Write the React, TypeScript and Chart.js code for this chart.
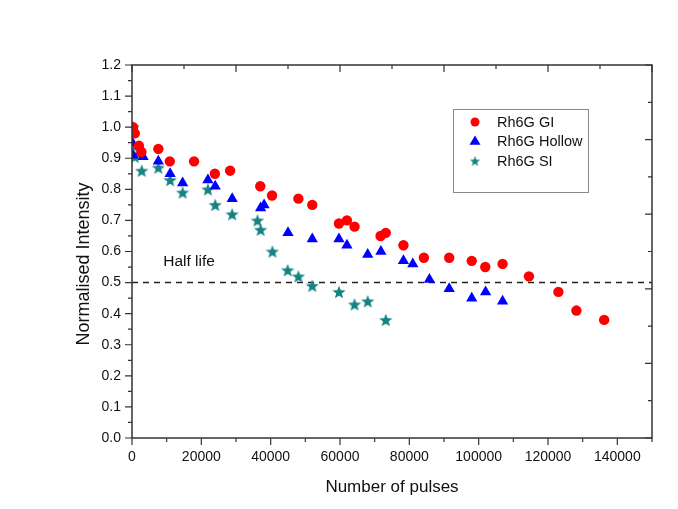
import React, { useEffect, useRef } from 'react';
import { Chart, registerables } from 'chart.js';

Chart.register(...registerables);

// ---- data ----
const seriesNames = ['Rh6G GI', 'Rh6G Hollow', 'Rh6G SI'];

const giX = [300, 800, 2000, 2700, 7600, 10900, 17900, 23900, 28300, 37000, 40400, 48000, 52000, 59700, 62000, 64200, 71700, 73200, 78300, 84200, 91500, 98000, 101900, 106900, 114500, 123000, 128200, 136200];
const giY = [1.0, 0.98, 0.94, 0.92, 0.93, 0.89, 0.89, 0.85, 0.86, 0.81, 0.78, 0.77, 0.75, 0.69, 0.70, 0.68, 0.65, 0.66, 0.62, 0.58, 0.58, 0.57, 0.55, 0.56, 0.52, 0.47, 0.41, 0.38];

const hollowX = [100, 100, 300, 2500, 3200, 7600, 11000, 14600, 21900, 24000, 28900, 37100, 38100, 45000, 52000, 59700, 62000, 68000, 71800, 78300, 81000, 85800, 91500, 98000, 102000, 106900];
const hollowY = [0.99, 0.95, 0.91, 0.92, 0.905, 0.89, 0.85, 0.82, 0.83, 0.81, 0.77, 0.74, 0.75, 0.66, 0.64, 0.64, 0.62, 0.59, 0.60, 0.57, 0.56, 0.51, 0.48, 0.45, 0.47, 0.44];

const siX = [300, 600, 800, 2800, 7600, 11000, 14600, 21900, 24000, 28900, 36200, 37100, 40500, 44900, 48000, 52000, 59700, 64200, 68000, 73200];
const siY = [1.0, 0.94, 0.905, 0.86, 0.87, 0.83, 0.79, 0.80, 0.75, 0.72, 0.70, 0.67, 0.60, 0.54, 0.52, 0.49, 0.47, 0.43, 0.44, 0.38];

const xLabelTicks = [0, 20000, 40000, 60000, 80000, 100000, 120000, 140000];
const yLabelTicks = [0, 0.1, 0.2, 0.3, 0.4, 0.5, 0.6, 0.7, 0.8, 0.9, 1.0, 1.1, 1.2];
const X_MIN = 0;
const X_MAX = 150000;
const Y_MIN = 0;
const Y_MAX = 1.2;
const halfLife = 0.5;
const halfLifeLabel = 'Half life';
const xTitle = 'Number of pulses';
const yTitle = 'Normalised Intensity';

const RED = '#ff0000';
const BLUE = '#0000ff';
const TEAL = '#168282';
const FRAME = '#333333';
const FONT = '"Liberation Sans", Arial, sans-serif';

function makeStar(size: number, color: string) {
  const c = document.createElement('canvas');
  c.width = size;
  c.height = size;
  const ctx = c.getContext('2d')!;
  const R = size / 2;
  const r = R * 0.42;
  const cx = size / 2;
  const cy = size / 2 + R * 0.1;
  ctx.beginPath();
  for (let i = 0; i < 10; i++) {
    const a = -Math.PI / 2 + (i * Math.PI) / 5;
    const rad = i % 2 === 0 ? R : r;
    const px = cx + rad * Math.cos(a);
    const py = cy + rad * Math.sin(a);
    if (i === 0) ctx.moveTo(px, py);
    else ctx.lineTo(px, py);
  }
  ctx.closePath();
  ctx.fillStyle = color;
  ctx.fill();
  return c;
}

function toPoints(xs: number[], ys: number[]) {
  return xs.map((x, i) => ({ x, y: ys[i] }));
}

export default function App() {
  const ref = useRef<HTMLCanvasElement | null>(null);

  useEffect(() => {
    if (!ref.current) return;
    const star = makeStar(14, TEAL);
    const legendStar = makeStar(11, TEAL);

    const decor = {
      id: 'decor',
      beforeDatasetsDraw(chart: any) {
        const { ctx, chartArea } = chart;
        const y = chart.scales.y.getPixelForValue(halfLife);
        ctx.save();
        ctx.strokeStyle = '#222';
        ctx.lineWidth = 1.5;
        ctx.setLineDash([6, 5]);
        ctx.beginPath();
        ctx.moveTo(chartArea.left, y);
        ctx.lineTo(chartArea.right, y);
        ctx.stroke();
        ctx.setLineDash([]);
        ctx.fillStyle = '#111';
        ctx.font = `15.5px ${FONT}`;
        ctx.textBaseline = 'middle';
        ctx.textAlign = 'left';
        ctx.fillText(halfLifeLabel, chart.scales.x.getPixelForValue(9000), chart.scales.y.getPixelForValue(0.566));
        ctx.restore();
      },
      afterDraw(chart: any) {
        const { ctx, chartArea } = chart;
        const xs = chart.scales.x;
        const ys = chart.scales.y;
        const { left, right, top, bottom } = chartArea;
        ctx.save();
        ctx.strokeStyle = FRAME;
        ctx.lineWidth = 1.5;
        ctx.strokeRect(left, top, right - left, bottom - top);
        ctx.lineWidth = 1.2;
        ctx.beginPath();
        // bottom ticks (outward)
        for (let v = X_MIN; v <= X_MAX; v += 10000) {
          const px = xs.getPixelForValue(v);
          const len = v % 20000 === 0 ? 7 : 4;
          ctx.moveTo(px, bottom);
          ctx.lineTo(px, bottom + len);
        }
        // top ticks (inward)
        for (let v = X_MIN; v <= X_MAX; v += 15000) {
          const px = xs.getPixelForValue(v);
          const len = v % 30000 === 0 ? 7 : 4;
          ctx.moveTo(px, top);
          ctx.lineTo(px, top + len);
        }
        // left ticks (outward)
        for (let i = 0; i <= 24; i++) {
          const v = i * 0.05;
          const py = ys.getPixelForValue(v);
          const len = i % 2 === 0 ? 7 : 4;
          ctx.moveTo(left, py);
          ctx.lineTo(left - len, py);
        }
        // right ticks (inward)
        for (let i = 0; i <= 10; i++) {
          const v = i * 0.12;
          const py = ys.getPixelForValue(v);
          const len = i % 2 === 0 ? 7 : 4;
          ctx.moveTo(right, py);
          ctx.lineTo(right - len, py);
        }
        ctx.stroke();

        // axis titles
        ctx.fillStyle = '#111';
        ctx.font = `17px ${FONT}`;
        ctx.textAlign = 'center';
        ctx.textBaseline = 'middle';
        ctx.fillText(xTitle, (left + right) / 2, 487);
        ctx.save();
        ctx.translate(84, 264);
        ctx.rotate(-Math.PI / 2);
        ctx.font = `18px ${FONT}`;
        ctx.fillText(yTitle, 0, 0);
        ctx.restore();

        // legend
        ctx.strokeStyle = '#8a8a8a';
        ctx.lineWidth = 1;
        ctx.strokeRect(453.5, 109.5, 135, 83);
        const lx = 475;
        const rows = [122, 141, 161];
        ctx.fillStyle = RED;
        ctx.beginPath();
        ctx.arc(lx, rows[0], 4.5, 0, Math.PI * 2);
        ctx.fill();
        ctx.fillStyle = BLUE;
        ctx.beginPath();
        ctx.moveTo(lx, rows[1] - 5.5);
        ctx.lineTo(lx + 5.5, rows[1] + 3.8);
        ctx.lineTo(lx - 5.5, rows[1] + 3.8);
        ctx.closePath();
        ctx.fill();
        ctx.drawImage(legendStar, lx - legendStar.width / 2, rows[2] - legendStar.height / 2);
        ctx.fillStyle = '#111';
        ctx.font = `14.5px ${FONT}`;
        ctx.textAlign = 'left';
        seriesNames.forEach((n, i) => ctx.fillText(n, 497, rows[i] + 1));
        ctx.restore();
      },
    };

    const chart = new Chart(ref.current, {
      type: 'scatter',
      data: {
        datasets: [
          {
            label: seriesNames[0],
            data: toPoints(giX, giY),
            pointStyle: 'circle',
            pointRadius: 5.2,
            pointBorderWidth: 0,
            backgroundColor: RED,
            borderColor: RED,
          },
          {
            label: seriesNames[1],
            data: toPoints(hollowX, hollowY),
            pointStyle: 'triangle',
            pointRadius: 6.5,
            pointBorderWidth: 0,
            backgroundColor: BLUE,
            borderColor: BLUE,
          },
          {
            label: seriesNames[2],
            data: toPoints(siX, siY),
            pointStyle: star as any,
            pointRadius: 7,
            backgroundColor: TEAL,
            borderColor: TEAL,
          },
        ],
      },
      options: {
        responsive: false,
        animation: false,
        layout: { padding: { top: 65, right: 26, left: 0, bottom: 0 } },
        plugins: {
          legend: { display: false },
          tooltip: { enabled: false },
        },
        scales: {
          x: {
            type: 'linear',
            min: X_MIN,
            max: X_MAX,
            afterBuildTicks: (s: any) => {
              s.ticks = xLabelTicks.map((value) => ({ value }));
            },
            afterFit: (s: any) => {
              s.height = 71;
            },
            grid: { display: true, drawOnChartArea: false, drawTicks: false, color: 'rgba(0,0,0,0)' },
            border: { display: false },
            ticks: {
              padding: 11,
              color: '#111',
              font: { family: FONT, size: 14 },
              maxRotation: 0,
              callback: (v: any) => String(v),
            },
          },
          y: {
            type: 'linear',
            min: Y_MIN,
            max: Y_MAX,
            afterBuildTicks: (s: any) => {
              s.ticks = yLabelTicks.map((value) => ({ value }));
            },
            afterFit: (s: any) => {
              s.width = 132;
            },
            grid: { display: true, drawOnChartArea: false, drawTicks: false, color: 'rgba(0,0,0,0)' },
            border: { display: false },
            ticks: {
              padding: 11,
              color: '#111',
              font: { family: FONT, size: 14 },
              callback: (v: any) => Number(v).toFixed(1),
            },
          },
        },
      },
      plugins: [decor],
    });
    return () => chart.destroy();
  }, []);

  return (
    <div style={{ position: 'fixed', left: 0, top: 0, width: 678, height: 509, background: '#fff' }}>
      <canvas ref={ref} width={678} height={509} style={{ display: 'block' }} />
    </div>
  );
}
